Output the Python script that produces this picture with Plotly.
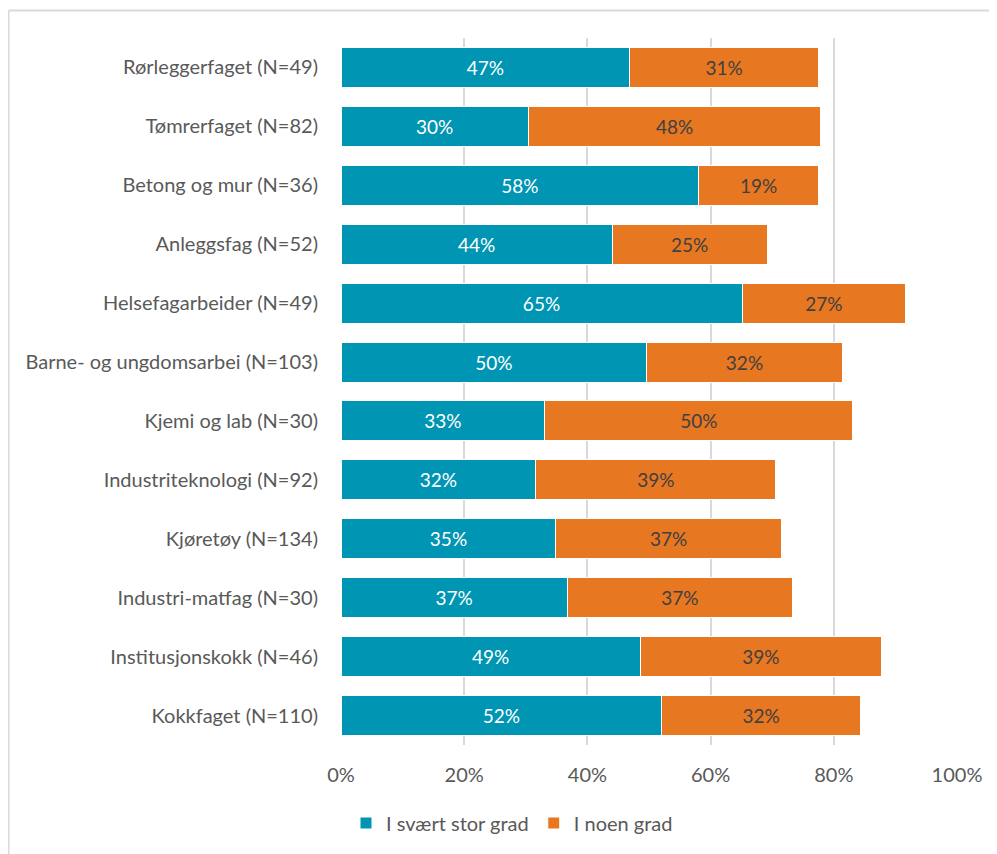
import plotly.graph_objects as go

categories = [
    "Rørleggerfaget (N=49)",
    "Tømrerfaget (N=82)",
    "Betong og mur (N=36)",
    "Anleggsfag (N=52)",
    "Helsefagarbeider (N=49)",
    "Barne- og ungdomsarbei (N=103)",
    "Kjemi og lab (N=30)",
    "Industriteknologi (N=92)",
    "Kjøretøy (N=134)",
    "Industri-matfag (N=30)",
    "Institusjonskokk (N=46)",
    "Kokkfaget (N=110)",
]
svaert_stor = [46.9, 30.4, 58.1, 44.0, 65.1, 49.6, 33.1, 31.6, 34.9, 36.7, 48.6, 52.1]
noen_grad = [30.6, 47.5, 19.4, 25.2, 26.6, 31.8, 50.0, 39.0, 36.6, 36.6, 39.1, 32.2]
tick_vals = [0, 20, 40, 60, 80, 100]
tick_text = ["0%", "20%", "40%", "60%", "80%", "100%"]

FONT = "Lato"
FS = 20
OFF = 8  # page body offset
W, H = 997 - OFF, 854 - OFF
ML, MT = 341 - OFF, 38 - OFF
MR = W - (957 - OFF)
MB = H - (745 - OFF)

fig = go.Figure()
fig.add_trace(go.Bar(
    y=categories, x=svaert_stor, orientation="h", name="I svært stor grad",
    marker=dict(color="#0095B3", line=dict(color="white", width=1)),
    text=[f"{v:.0f}%" for v in svaert_stor], textposition="inside",
    insidetextanchor="middle", textfont=dict(color="white", size=19, family=FONT),
    hoverinfo="skip",
))
fig.add_trace(go.Bar(
    y=categories, x=noen_grad, orientation="h", name="I noen grad",
    marker=dict(color="#E87722", line=dict(color="white", width=1)),
    text=[f"{v:.0f}%" for v in noen_grad], textposition="inside",
    insidetextanchor="middle", textfont=dict(color="#404040", size=19, family=FONT),
    hoverinfo="skip",
))

pw = W - ML - MR
ph = H - MT - MB
fx = (8.5 - OFF - ML) / pw
fy = 1 + (MT - (10.5 - OFF)) / ph
fig.add_shape(type="line", xref="paper", yref="paper",
              x0=fx, x1=(W - ML) / pw, y0=fy, y1=fy,
              line=dict(color="#D9D9D9", width=2))
fig.add_shape(type="line", xref="paper", yref="paper",
              x0=fx, x1=fx, y0=fy, y1=-MB / ph,
              line=dict(color="#D9D9D9", width=2))

fig.update_layout(
    width=W, height=H,
    margin=dict(l=ML, r=MR, t=MT, b=MB),
    barmode="stack", bargap=0.32,
    plot_bgcolor="white", paper_bgcolor="white",
    font=dict(family=FONT, size=FS, color="#595959"),
    uniformtext=dict(minsize=10, mode="show"),
    xaxis=dict(range=[0, 100], tickvals=tick_vals, ticktext=tick_text,
               showgrid=True, gridcolor="#D9D9D9", gridwidth=1.5,
               zeroline=False, showline=False, ticks="",
               ticklabelstandoff=16, tickfont=dict(size=FS, color="#595959"),
               fixedrange=True),
    yaxis=dict(autorange="reversed", showgrid=False, ticks="",
               ticklabelstandoff=22, tickfont=dict(size=FS, color="#595959"),
               fixedrange=True),
    legend=dict(orientation="h", x=(512 - OFF - ML) / pw, xanchor="center",
                y=-((823 - OFF) - (H - MB)) / ph, yanchor="middle",
                font=dict(size=FS, color="#595959"),
                itemwidth=30, traceorder="normal"),
    showlegend=True,
)

fig.write_html("out.html")
